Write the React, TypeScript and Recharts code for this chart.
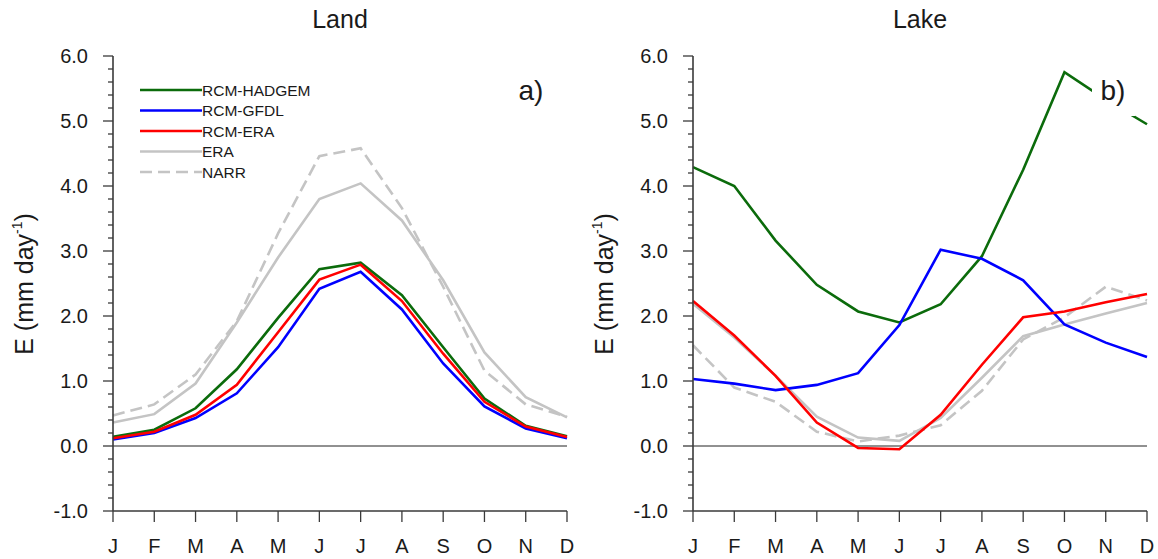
import React from 'react';
import { LineChart, Line, XAxis, YAxis, ReferenceLine, Legend } from 'recharts';

// ---------- data ----------
const months = ['J', 'F', 'M', 'A', 'M', 'J', 'J', 'A', 'S', 'O', 'N', 'D'];
const monthIndex = [0, 1, 2, 3, 4, 5, 6, 7, 8, 9, 10, 11];
const yAllTicks = [
  -1.0, -0.8, -0.6, -0.4, -0.2, 0.0, 0.2, 0.4, 0.6, 0.8, 1.0, 1.2, 1.4, 1.6, 1.8, 2.0, 2.2, 2.4, 2.6, 2.8,
  3.0, 3.2, 3.4, 3.6, 3.8, 4.0, 4.2, 4.4, 4.6, 4.8, 5.0, 5.2, 5.4, 5.6, 5.8, 6.0,
];
const yMajorTicks = [-1, 0, 1, 2, 3, 4, 5, 6];

const landHadgem = [0.14, 0.25, 0.58, 1.18, 1.97, 2.72, 2.82, 2.32, 1.52, 0.73, 0.31, 0.15];
const landGfdl = [0.10, 0.20, 0.43, 0.81, 1.52, 2.42, 2.68, 2.10, 1.27, 0.61, 0.27, 0.12];
const landRcmEra = [0.12, 0.22, 0.48, 0.94, 1.75, 2.56, 2.79, 2.23, 1.42, 0.68, 0.30, 0.14];
const landEra = [0.36, 0.49, 0.96, 1.90, 2.90, 3.80, 4.04, 3.47, 2.55, 1.44, 0.75, 0.44];
const landNarr = [0.47, 0.64, 1.10, 1.92, 3.27, 4.46, 4.58, 3.66, 2.45, 1.16, 0.64, 0.45];

const lakeHadgem = [4.29, 4.00, 3.16, 2.48, 2.07, 1.90, 2.18, 2.92, 4.25, 5.75, 5.33, 4.95];
const lakeGfdl = [1.03, 0.96, 0.86, 0.94, 1.12, 1.86, 3.02, 2.88, 2.55, 1.87, 1.59, 1.37];
const lakeRcmEra = [2.23, 1.70, 1.08, 0.36, -0.03, -0.05, 0.48, 1.25, 1.98, 2.07, 2.21, 2.34];
const lakeEra = [2.19, 1.67, 1.08, 0.45, 0.13, 0.08, 0.43, 1.05, 1.69, 1.87, 2.04, 2.20];
const lakeNarr = [1.55, 0.90, 0.68, 0.22, 0.07, 0.16, 0.32, 0.85, 1.64, 1.98, 2.45, 2.24];

const seriesNames = ['RCM-HADGEM', 'RCM-GFDL', 'RCM-ERA', 'ERA', 'NARR'];
const seriesKeys = ['hadgem', 'gfdl', 'rcmera', 'era', 'narr'];
const seriesColors = ['#0b6b0b', '#0000ff', '#ff0000', '#c4c4c4', '#c4c4c4'];
const seriesDash = ['', '', '', '', '12 6'];
const drawOrder = [3, 4, 0, 1, 2];

const panelTitles = ['Land', 'Lake'];
const panelTags = ['a)', 'b)'];

// ---------- styling ----------
const FONT = '"Liberation Sans", Arial, Helvetica, sans-serif';
const AX = '#3a3a3a';
const TXT = '#1a1a1a';
const CW = 580;
const CH = 559;

const buildRows = (h: number[], g: number[], r: number[], e: number[], n: number[]) =>
  monthIndex.map((i) => ({ i, hadgem: h[i], gfdl: g[i], rcmera: r[i], era: e[i], narr: n[i] }));

const landRows = buildRows(landHadgem, landGfdl, landRcmEra, landEra, landNarr);
const lakeRows = buildRows(lakeHadgem, lakeGfdl, lakeRcmEra, lakeEra, lakeNarr);

const isMajor = (v: number) => Math.abs(v - Math.round(v)) < 1e-6;

const LeftTick = (p: any) => {
  const { x, y, payload } = p;
  const v = payload.value;
  const mj = isMajor(v);
  return (
    <g>
      <line x1={x - (mj ? 10 : 5)} x2={x} y1={y} y2={y} stroke={AX} strokeWidth={1.3} />
      {mj && yMajorTicks.includes(Math.round(v)) && (
        <text x={x - 25} y={y + 7} textAnchor="end" fontSize={20} fill={TXT} fontFamily={FONT}>
          {v.toFixed(1)}
        </text>
      )}
    </g>
  );
};

const RightTick = (p: any) => {
  const { x, y, payload } = p;
  const mj = isMajor(payload.value);
  return <line x1={x} x2={x + (mj ? 10 : 5)} y1={y} y2={y} stroke={AX} strokeWidth={1.3} />;
};

const BottomTick = (p: any) => {
  const { x, y, payload } = p;
  return (
    <g>
      <line x1={x} x2={x} y1={y} y2={y + 11} stroke={AX} strokeWidth={1.3} />
      <text x={x} y={y + 42} textAnchor="middle" fontSize={20} fill={TXT} fontFamily={FONT}>
        {months[payload.value]}
      </text>
    </g>
  );
};

const TopTick = (p: any) => {
  const { x, y } = p;
  return <line x1={x} x2={x} y1={y - 11} y2={y} stroke={AX} strokeWidth={1.3} />;
};

const LegendBox = () => (
  <svg width={200} height={110} style={{ display: 'block', overflow: 'visible' }}>
    {seriesNames.map((name, k) => {
      const cy = 10 + k * 20.5;
      return (
        <g key={name}>
          <line
            x1={0}
            x2={62}
            y1={cy}
            y2={cy}
            stroke={seriesColors[k]}
            strokeWidth={2.6}
            strokeDasharray={seriesDash[k] || undefined}
          />
          <text x={62} y={cy + 5.5} fontSize={15.5} fill={TXT} fontFamily={FONT}>
            {name}
          </text>
        </g>
      );
    })}
  </svg>
);

const Panel = ({ rows, withLegend }: { rows: any[]; withLegend: boolean }) => (
  <LineChart width={CW} height={CH} data={rows} margin={{ top: 56, right: 13, bottom: 8, left: 0 }}>
    <XAxis
      dataKey="i"
      type="number"
      domain={[0, 11]}
      ticks={monthIndex}
      interval={0}
      height={40}
      tickSize={0}
      tickMargin={0}
      tickLine={false}
      axisLine={{ stroke: AX, strokeWidth: 1.6 }}
      tick={(p: any) => <BottomTick {...p} />}
    />
    <XAxis
      xAxisId="t"
      orientation="top"
      dataKey="i"
      type="number"
      domain={[0, 11]}
      ticks={monthIndex}
      interval={0}
      height={0}
      tickSize={0}
      tickMargin={0}
      tickLine={false}
      axisLine={{ stroke: AX, strokeWidth: 1.6 }}
      tick={(p: any) => <TopTick {...p} />}
    />
    <YAxis
      type="number"
      domain={[-1, 6]}
      ticks={yAllTicks}
      interval={0}
      width={113}
      tickSize={0}
      tickMargin={0}
      tickLine={false}
      axisLine={{ stroke: AX, strokeWidth: 1.6 }}
      tick={(p: any) => <LeftTick {...p} />}
    />
    <YAxis
      yAxisId="r"
      orientation="right"
      type="number"
      domain={[-1, 6]}
      ticks={yAllTicks}
      interval={0}
      width={0}
      tickSize={0}
      tickMargin={0}
      tickLine={false}
      axisLine={{ stroke: AX, strokeWidth: 1.6 }}
      tick={(p: any) => <RightTick {...p} />}
    />
    <ReferenceLine y={0} stroke="#222" strokeWidth={1} />
    {drawOrder.map((k) => (
      <Line
        key={seriesKeys[k]}
        dataKey={seriesKeys[k]}
        name={seriesNames[k]}
        type="linear"
        stroke={seriesColors[k]}
        strokeWidth={2.6}
        strokeDasharray={seriesDash[k] || undefined}
        dot={false}
        activeDot={false}
        isAnimationActive={false}
      />
    ))}
    {withLegend && (
      <Legend
        layout="horizontal"
        verticalAlign="middle"
        align="center"
        wrapperStyle={{ position: 'absolute', left: 140, top: 80, width: 200, height: 110 }}
        content={() => <LegendBox />}
      />
    )}
  </LineChart>
);

const YLabel = ({ cx }: { cx: number }) => (
  <text
    transform={`translate(${cx}, 284) rotate(-90)`}
    textAnchor="middle"
    fontSize={25}
    fill={TXT}
    fontFamily={FONT}
  >
    <tspan>E (mm day</tspan>
    <tspan fontSize={14} dy={-11}>-1</tspan>
    <tspan dy={11}>)</tspan>
  </text>
);

export default function App() {
  return (
    <div
      style={{
        position: 'absolute',
        left: 0,
        top: 0,
        width: 1158,
        height: 559,
        background: '#ffffff',
        fontFamily: FONT,
        overflow: 'hidden',
      }}
    >
      <div style={{ position: 'absolute', left: 0, top: 0 }}>
        <Panel rows={landRows} withLegend={true} />
      </div>
      <div style={{ position: 'absolute', left: 580, top: 0 }}>
        <Panel rows={lakeRows} withLegend={false} />
      </div>
      <svg
        width={1158}
        height={559}
        style={{ position: 'absolute', left: 0, top: 0, pointerEvents: 'none' }}
      >
        <text x={340} y={28} textAnchor="middle" fontSize={25} fill={TXT} fontFamily={FONT}>
          {panelTitles[0]}
        </text>
        <text x={920} y={28} textAnchor="middle" fontSize={25} fill={TXT} fontFamily={FONT}>
          {panelTitles[1]}
        </text>
        <YLabel cx={33} />
        <YLabel cx={613} />
        <text x={531} y={100} textAnchor="middle" fontSize={28} fill={TXT} fontFamily={FONT}>
          {panelTags[0]}
        </text>
        <rect x={1092} y={72} width={43} height={44} fill="#ffffff" />
        <text x={1113} y={100} textAnchor="middle" fontSize={28} fill={TXT} fontFamily={FONT}>
          {panelTags[1]}
        </text>
      </svg>
    </div>
  );
}
